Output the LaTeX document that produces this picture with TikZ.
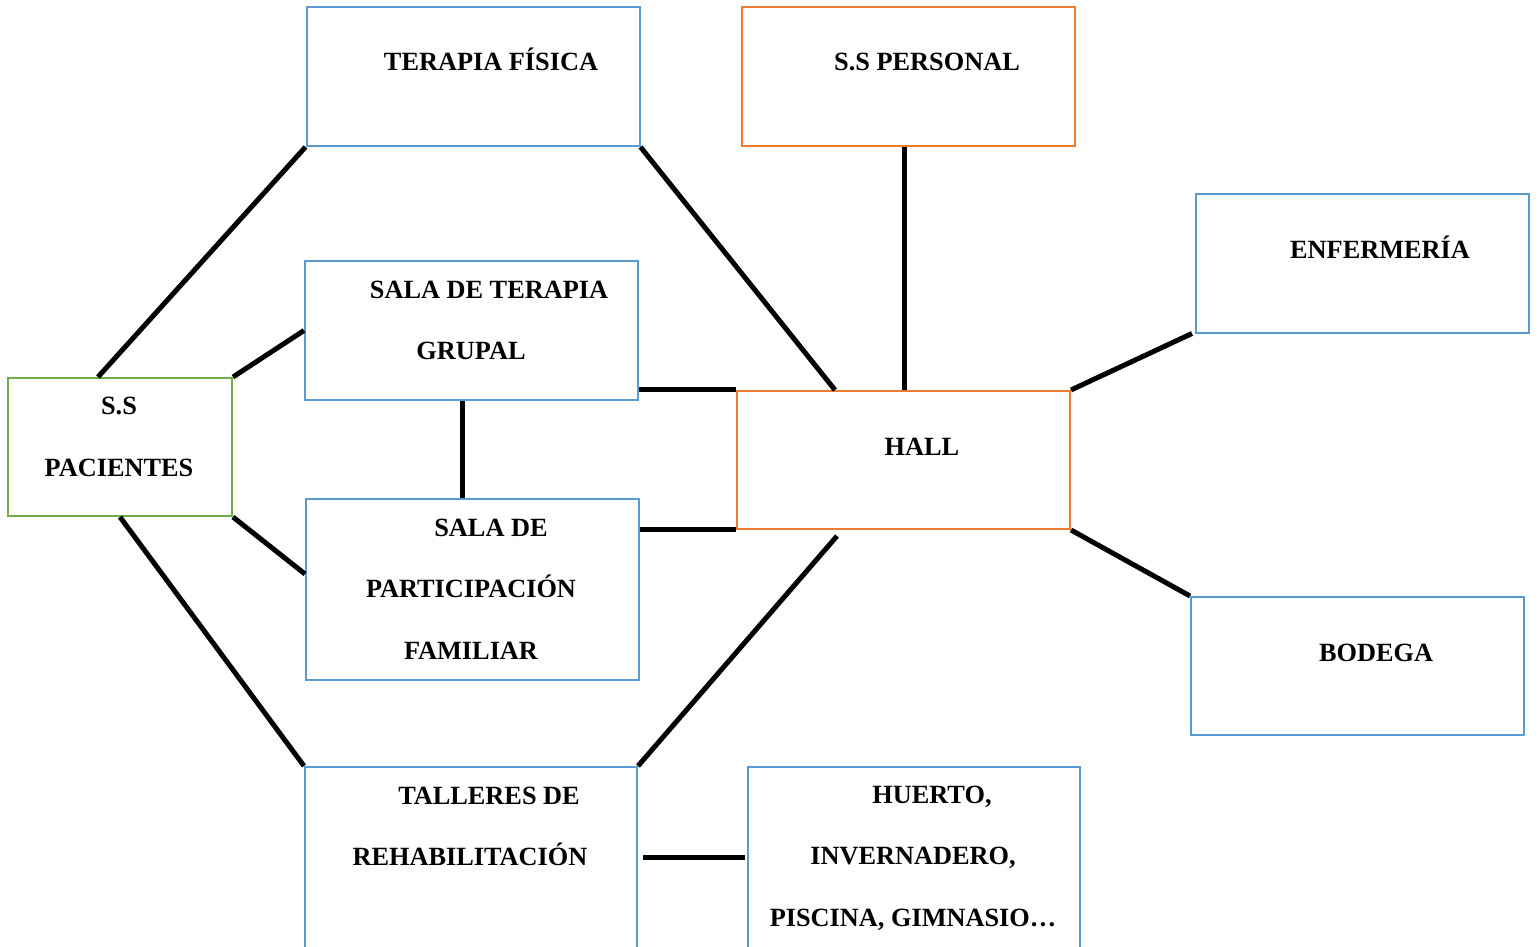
\documentclass[tikz,border=0pt]{standalone}
\usepackage{fontspec}
\setmainfont{Liberation Serif}
\usetikzlibrary{calc}
\definecolor{bl}{HTML}{5B9BD5}
\definecolor{orn}{HTML}{ED7D31}
\definecolor{grn}{HTML}{70AD47}
\tikzset{
  box/.style={draw=bl, line width=2pt, minimum width=333pt, minimum height=139pt, inner sep=0pt, fill=white},
  obox/.style={box, draw=orn},
  gbox/.style={box, draw=grn},
  lbl/.style={font=\fontsize{26.3}{31}\selectfont\bfseries, inner sep=0pt, anchor=base},
  conn/.style={line width=5pt, black}
}
\begin{document}
\begin{tikzpicture}[x=1pt,y=-1pt]
\useasboundingbox (0,0) rectangle (1540,947);
\clip (0,0) rectangle (1540,947);
\node[box] (tf) at (473,76.5) {};
\node[obox] (ssp) at (908.5,76.5) {};
\node[box] (enf) at (1362.5,263) {};
\node[box] (sg) at (471.5,330.5) {};
\node[gbox, minimum width=224pt, minimum height=138pt] (pac) at (120,447) {};
\node[obox, minimum height=138pt] (hall) at (903.5,460) {};
\node[box, minimum height=181pt] (spf) at (472.5,589.5) {};
\node[box, minimum height=138pt] (bod) at (1357.5,666) {};
\node[box, minimum width=332pt, minimum height=193pt] (tal) at (471,863.5) {};
\node[box, minimum width=332pt, minimum height=193pt] (hue) at (914,863.5) {};

\coordinate (pactop) at ($(pac.north west)+(91,0)$);
\coordinate (halltl) at ($(hall.north west)+(99,0)$);
\coordinate (hallbl) at ($(hall.south west)+(101,6)$);
\coordinate (sgbot) at ($(sg.south)+(-9.5,0)$);
\coordinate (spftop) at (sgbot |- spf.north);
\coordinate (spfl) at ($(spf.north west)+(0,76)$);
\coordinate (talr) at ($(tal.north east)+(5,91)$);
\coordinate (huel) at ($(hue.north west)+(-2,91)$);
\coordinate (sspb) at ($(ssp.south)+(-4,0)$);
\coordinate (hallt) at (sspb |- hall.north);
\coordinate (hallw1) at ($(hall.north west)+(0,-1)$);
\coordinate (sge) at (hallw1 -| sg.east);
\coordinate (hallw2) at ($(hall.south west)+(0,-1)$);
\coordinate (spfe) at (hallw2 -| spf.east);

\draw[conn] (tf.south west) -- (pactop);
\draw[conn] (tf.south east) -- (halltl);
\draw[conn] (sspb) -- (hallt);
\draw[conn] ($(enf.south west)+(-3,0)$) -- (hall.north east);
\draw[conn] (pac.north east) -- (sg.west);
\draw[conn] (hallw1) -- (sge);
\draw[conn] (sgbot) -- (spftop);
\draw[conn] (hallw2) -- (spfe);
\draw[conn] (pac.south east) -- (spfl);
\draw[conn] (pac.south) -- (tal.north west);
\draw[conn] (hallbl) -- (tal.north east);
\draw[conn] (hall.south east) -- (bod.north west);
\draw[conn] (talr) -- (huel);

\node[lbl] (t1) at (491,71) {TERAPIA FÍSICA};
\node[lbl] (t2) at (927,71) {S.S PERSONAL};
\node[lbl] (t3) at (1380,258) {ENFERMERÍA};
\node[lbl] (t4) at (489,298) {SALA DE TERAPIA};
\node[lbl] (t5) at (471,359) {GRUPAL};
\node[lbl] (t6) at (119,414) {S.S};
\node[lbl] (t7) at (119,476) {PACIENTES};
\node[lbl] (t8) at (922,455) {HALL};
\node[lbl] (t9) at (491,536) {SALA DE};
\node[lbl] (t10) at (471,597) {PARTICIPACIÓN};
\node[lbl] (t11) at (471,659) {FAMILIAR};
\node[lbl] (t12) at (1376,661) {BODEGA};
\node[lbl] (t13) at (489,804) {TALLERES DE};
\node[lbl] (t14) at (470,865) {REHABILITACIÓN};
\node[lbl] (t15) at (932,803) {HUERTO,};
\node[lbl] (t16) at (913,864) {INVERNADERO,};
\node[lbl] (t17) at (913,926) {PISCINA, GIMNASIO…};
\end{tikzpicture}
\end{document}
